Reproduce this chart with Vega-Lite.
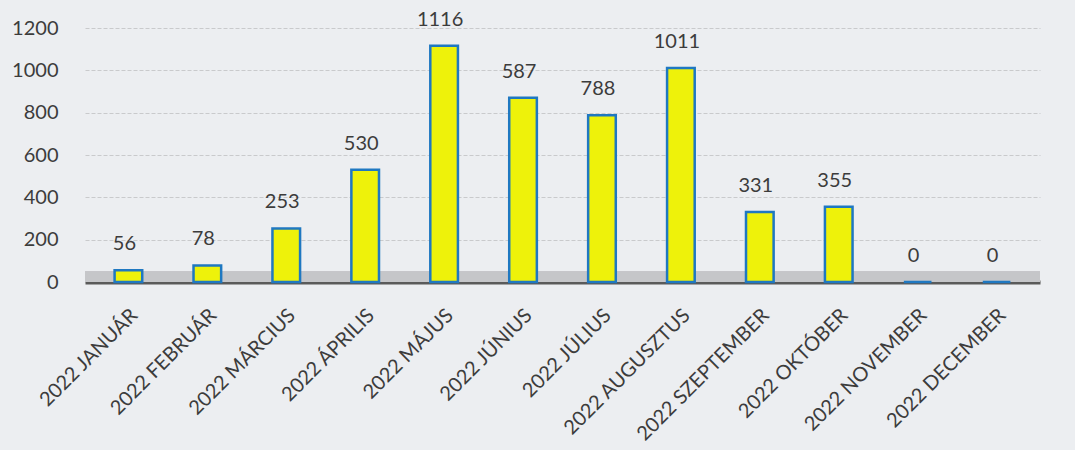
{
  "$schema": "https://vega.github.io/schema/vega-lite/v6.json",
  "autosize": "none",
  "padding": {"left": 85, "top": 28, "right": 35, "bottom": 168},
  "width": 955,
  "height": 254,
  "background": "#eceef1",
  "config": {
    "view": {"stroke": null},
    "font": "Lato",
    "axis": {"labelFont": "Lato", "labelColor": "#3c3c3c"}
  },
  "data": {
    "values": [
      {"month": "2022 JANUÁR", "value": 56, "label": "56"},
      {"month": "2022 FEBRUÁR", "value": 78, "label": "78"},
      {"month": "2022 MÁRCIUS", "value": 253, "label": "253"},
      {"month": "2022 ÁPRILIS", "value": 530, "label": "530"},
      {"month": "2022 MÁJUS", "value": 1116, "label": "1116"},
      {"month": "2022 JÚNIUS", "value": 870, "label": "587"},
      {"month": "2022 JÚLIUS", "value": 788, "label": "788"},
      {"month": "2022 AUGUSZTUS", "value": 1011, "label": "1011"},
      {"month": "2022 SZEPTEMBER", "value": 331, "label": "331"},
      {"month": "2022 OKTÓBER", "value": 355, "label": "355"},
      {"month": "2022 NOVEMBER", "value": 0, "label": "0"},
      {"month": "2022 DECEMBER", "value": 0, "label": "0"}
    ]
  },
  "encoding": {
    "x": {
      "field": "month",
      "type": "nominal",
      "sort": null,
      "scale": {"paddingInner": 0.65, "paddingOuter": 0.375},
      "axis": {
        "title": null,
        "labelAngle": -45,
        "labelAlign": "right",
        "labelBaseline": "middle",
        "labelFontSize": 20,
        "labelPadding": 30,
        "labelOffset": 6,
        "labelLimit": 400,
        "ticks": false,
        "domainColor": "#5a5a5a",
        "domainWidth": 4
      }
    },
    "y": {
      "field": "value",
      "type": "quantitative",
      "scale": {"domain": [0, 1200]},
      "axis": {
        "title": null,
        "format": "d",
        "values": [0, 200, 400, 600, 800, 1000, 1200],
        "labelFontSize": 20,
        "labelPadding": 27,
        "ticks": false,
        "domain": false,
        "gridColor": "#c9cacc",
        "gridWidth": 1,
        "gridDash": [4, 2]
      }
    }
  },
  "layer": [
    {
      "mark": {"type": "rect", "color": "#c5c6c9"},
      "encoding": {
        "x": null,
        "y": {"datum": 0},
        "y2": {"datum": 50}
      }
    },
    {
      "mark": {"type": "bar", "color": "#eef20a", "stroke": "#1f78c1", "strokeWidth": 2.5, "minBandSize": 3}
    },
    {
      "mark": {"type": "text", "baseline": "middle", "dy": -26, "dx": -4, "fontSize": 20, "color": "#3c3c3c", "font": "Lato"},
      "encoding": {"text": {"field": "label"}}
    }
  ]
}
